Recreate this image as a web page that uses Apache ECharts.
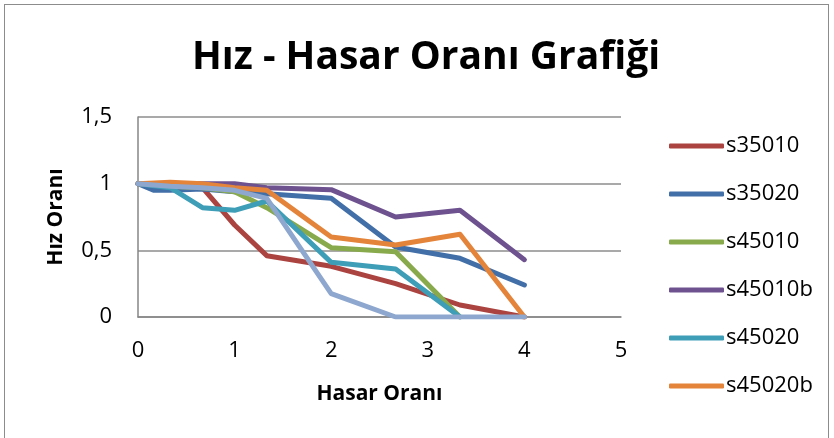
<!DOCTYPE html>
<html>
<head>
<meta charset="utf-8">
<script src="https://cdn.jsdelivr.net/npm/echarts@6/dist/echarts.min.js"></script>
<style>
  html, body { margin: 0; padding: 0; background: #fff; }
  #frame { position: absolute; left: 4px; top: 4px; width: 825px; height: 440px; border: 1.5px solid #8c8c8c; box-sizing: border-box; }
  #chart { position: absolute; left: 0; top: 0; width: 834px; height: 438px; }
</style>
</head>
<body>
<div id="frame"></div>
<div id="chart"></div>
<script>
// Hasar oranı (x) values used by most series
const hasar = [0, 0.333, 0.667, 1, 1.333, 2, 2.667, 3.333, 4];
const hasarS35020 = [0, 0.167, 0.333, 0.667, 1, 1.333, 2, 2.667, 3.333, 4];
const hasarKisa = [0, 0.333, 0.667, 1, 1.333, 2, 2.667, 3.333];

// Hız oranı (y) values per series
const s35010 = [1.0, 0.99, 0.97, 0.69, 0.46, 0.38, 0.25, 0.09, 0];
const s35020 = [1.0, 0.95, 0.95, 0.96, 0.94, 0.925, 0.89, 0.525, 0.44, 0.24];
const s45010 = [1.0, 0.98, 0.97, 0.94, 0.82, 0.52, 0.49, 0];
const s45010b = [1.0, 1.0, 1.0, 1.0, 0.97, 0.955, 0.75, 0.80, 0.43];
const s45020 = [1.0, 0.97, 0.82, 0.80, 0.87, 0.41, 0.36, 0];
const s45020b = [1.0, 1.01, 1.0, 0.97, 0.95, 0.60, 0.54, 0.62, 0];
const s45030 = [1.0, 0.98, 0.97, 0.95, 0.89, 0.175, 0, 0, 0];

const xTicks = [0, 1, 2, 3, 4, 5];
const yTicks = [0, 0.5, 1, 1.5];

const seriesDefs = [
  { name: 's35010', x: hasar, y: s35010, color: '#AB4440' },
  { name: 's35020', x: hasarS35020, y: s35020, color: '#426FA8' },
  { name: 's45010', x: hasarKisa, y: s45010, color: '#89AA4C' },
  { name: 's45010b', x: hasar, y: s45010b, color: '#6E5290' },
  { name: 's45020', x: hasarKisa, y: s45020, color: '#3E9DB7' },
  { name: 's45020b', x: hasar, y: s45020b, color: '#E4843A' },
  { name: 's45030', x: hasar, y: s45030, color: '#8EA7CE' }
];

const font = '"Open Sans", Lato, sans-serif';
const chart = echarts.init(document.getElementById('chart'), null, { renderer: 'canvas' });

chart.setOption({
  animation: false,
  title: {
    text: 'Hız - Hasar Oranı Grafiği',
    left: 192,
    top: 38,
    padding: 0,
    textStyle: { fontFamily: font, fontWeight: 'bold', fontSize: 39, color: '#000' }
  },
  legend: {
    data: seriesDefs.slice(0, 6).map(s => s.name),
    orient: 'vertical',
    left: 664,
    top: 130,
    itemWidth: 55,
    itemHeight: 5,
    itemGap: 26,
    icon: 'roundRect',
    textStyle: { fontFamily: font, fontSize: 22, color: '#000', padding: [0, 0, 0, -3] }
  },
  grid: { left: 138, right: 213, top: 117, bottom: 121, containLabel: false },
  xAxis: {
    type: 'value',
    min: xTicks[0],
    max: xTicks[xTicks.length - 1],
    interval: 1,
    name: 'Hasar Oranı',
    nameLocation: 'middle',
    nameGap: 67,
    nameTextStyle: { fontFamily: font, fontWeight: 'bold', fontSize: 21, color: '#000' },
    axisLine: { show: true, lineStyle: { color: '#868686', width: 1.5 } },
    axisTick: { show: false },
    splitLine: { show: false },
    axisLabel: { margin: 23, fontFamily: font, fontSize: 22, color: '#000' }
  },
  yAxis: {
    type: 'value',
    min: yTicks[0],
    max: yTicks[yTicks.length - 1],
    interval: 0.5,
    name: 'Hız Oranı',
    nameLocation: 'middle',
    nameGap: 71,
    nameTextStyle: { fontFamily: font, fontWeight: 'bold', fontSize: 21, color: '#000' },
    axisLine: { show: true, lineStyle: { color: '#868686', width: 1.5 } },
    axisTick: { show: false },
    splitLine: { show: true, lineStyle: { color: '#8c8c8c', width: 1.5 } },
    axisLabel: {
      margin: 26, fontFamily: font, fontSize: 22, color: '#000',
      formatter: v => String(v).replace('.', ',')
    }
  },
  series: seriesDefs.map(s => ({
    name: s.name,
    type: 'line',
    data: s.x.map((xv, i) => [xv, s.y[i]]),
    showSymbol: false,
    symbol: 'none',
    color: s.color,
    lineStyle: { width: 5, color: s.color, cap: 'round', join: 'round' },
    emphasis: { disabled: true }
  }))
});
</script>
</body>
</html>
